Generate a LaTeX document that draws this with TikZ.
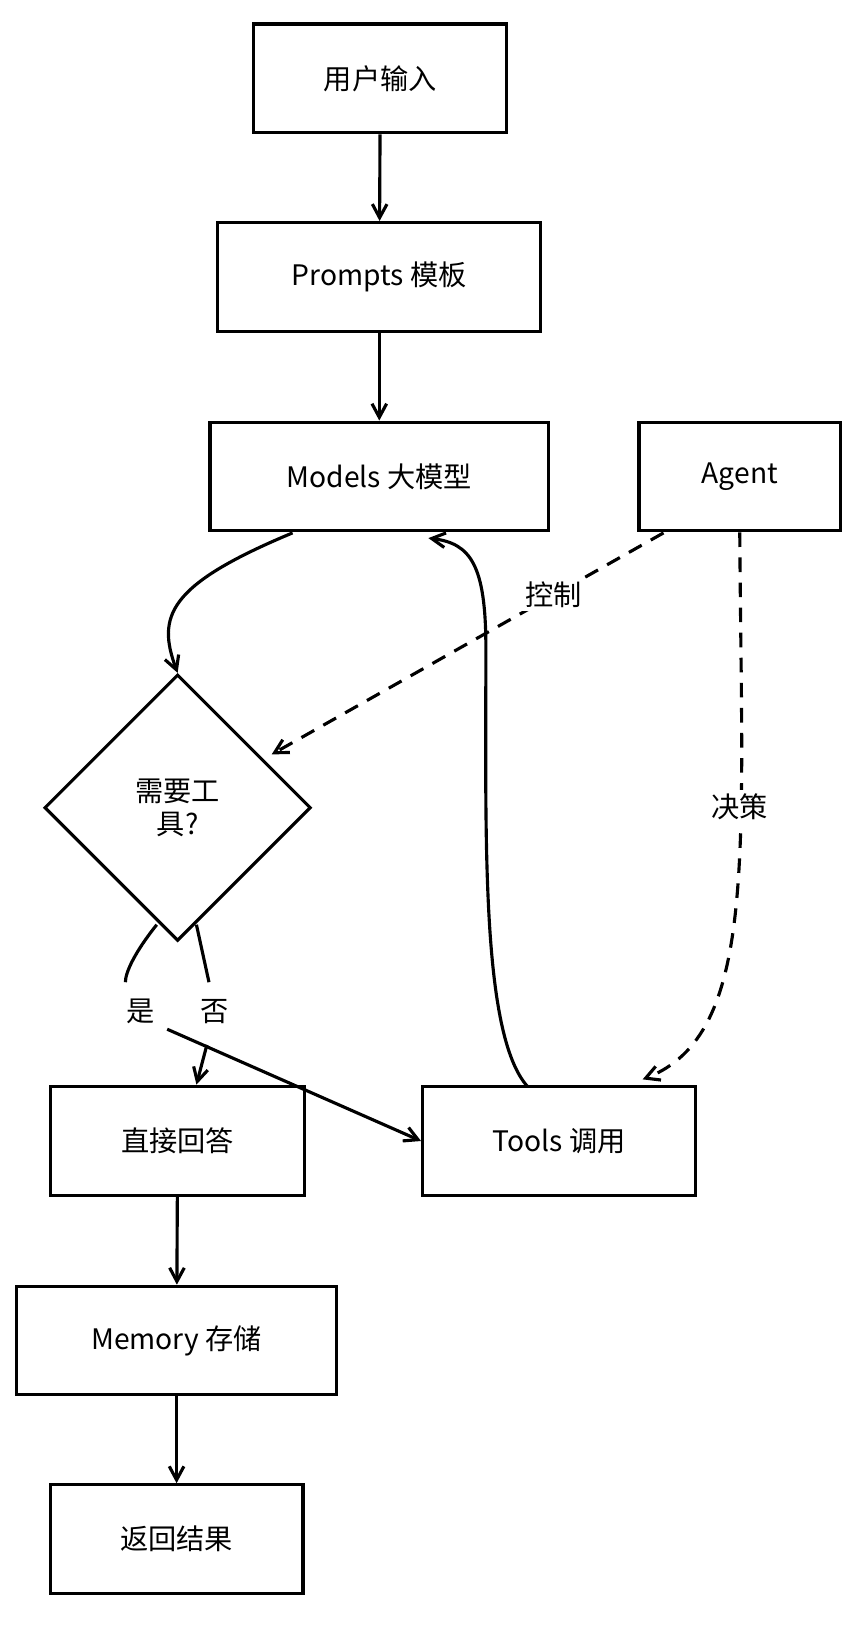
\documentclass[tikz,border=0pt]{standalone}
\usepackage{fontspec}
\setmainfont{Noto Sans CJK SC}
\usetikzlibrary{arrows.meta,shapes.geometric}
\begin{document}
\begin{tikzpicture}[x=1pt,y=-1pt,line width=3pt,
  box/.style={draw,minimum height=104pt,font=\fontsize{27}{32}\selectfont},
  lbl/.style={fill=white,font=\fontsize{27}{32}\selectfont,inner sep=3pt},
  ctrl/.style={dash pattern=on 14pt off 10pt},
  arr/.style={-{Straight Barb[length=13pt,width=14pt]}}]
  \useasboundingbox (0,0) rectangle (815,1560);
  \node[box,minimum width=242pt] (input) at (364,75) {用户输入};
  \node[box,minimum width=309pt] (prompts) at (363,265) {Prompts 模板};
  \node[box,minimum width=324pt] (models) at (363,456) {Models 大模型};
  \node[box,minimum width=193pt] (agent) at (708,456) {Agent};
  \node[draw,diamond,minimum width=255pt,minimum height=255pt,inner sep=0pt,align=center,font=\fontsize{27}{32}\selectfont] (need) at (170,773) {需要工\\具?};
  \node[box,minimum width=243pt] (direct) at (170,1092) {直接回答};
  \node[box,minimum width=261pt] (tools) at (535,1092) {Tools 调用};
  \node[box,minimum width=306pt] (memory) at (169,1283) {Memory 存储};
  \node[box,minimum width=242pt] (result) at (169,1473) {返回结果};
  \coordinate (toolsin) at (615,1033);

  \draw[arr] (input) -- (prompts);
  \draw[arr] (prompts) -- (models);
  \draw[arr] (280,510) .. controls (160,560) and (150,590) .. (need.north);
  \draw[arr,ctrl] (635,510) -- node[lbl,pos=0.28] {控制} (260,722);
  \draw[arr,ctrl] (agent.south) .. controls (710,820) and (725,990) .. (toolsin);
  \node[lbl] (decide) at (708,772) {决策};
  \draw[arr] (505,1040) .. controls (460,990) and (465,800) .. (465,620) .. controls (465,540) and (450,520) .. (410,515);
  \draw (150,885) .. controls (130,910) and (120,930) .. (120,940);
  \draw (188,885) -- (200,940);
  \node[lbl] (yes) at (135,968) {是};
  \node[lbl] (no) at (205,968) {否};
  \draw[arr] (160,985) -- (tools.west);
  \draw[arr] (198,1000) -- (188,1038);
  \draw[arr] (direct) -- (memory);
  \draw[arr] (memory) -- (result);
\end{tikzpicture}
\end{document}
